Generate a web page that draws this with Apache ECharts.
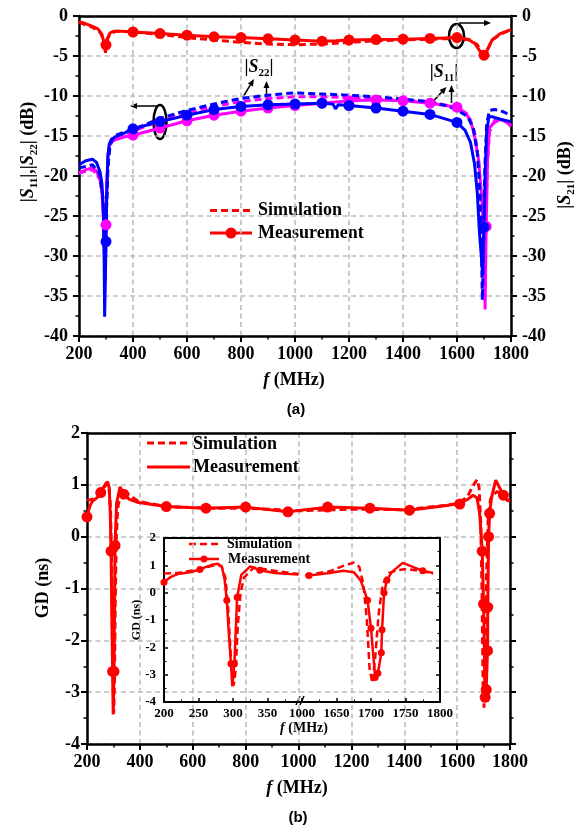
<!DOCTYPE html>
<html><head><meta charset="utf-8">
<script src="https://cdn.jsdelivr.net/npm/echarts@6/dist/echarts.min.js"></script>
<style>html,body{margin:0;padding:0;background:#fff}#c{width:586px;height:828px}</style>
</head><body><div id="c"></div>
<script>
// ---------------- DATA: (a) S-parameters, frequency in MHz, value in dB ----------------
const s21MeasF = [200, 220, 250, 270, 285, 293, 298, 300, 305, 315, 330, 360, 400, 500, 600, 700, 800, 900, 1000, 1100, 1150, 1200, 1300, 1400, 1500, 1600, 1640, 1665, 1685, 1700, 1712, 1730, 1760, 1800];
const s21MeasV = [-0.7, -0.9, -1.3, -1.6, -2.3, -3.4, -4.6, -3.6, -2.8, -2.1, -1.9, -1.9, -2.0, -2.2, -2.4, -2.6, -2.7, -2.85, -3.0, -3.15, -3.1, -3.0, -2.95, -2.9, -2.8, -2.7, -2.9, -3.4, -4.4, -4.9, -4.3, -3.0, -2.2, -1.7];
const s21MarkF = [300, 400, 500, 600, 700, 800, 900, 1000, 1100, 1200, 1300, 1400, 1500, 1600, 1700];

const s21SimF = [200, 250, 280, 292, 298, 304, 315, 340, 400, 500, 600, 700, 800, 900, 1000, 1100, 1200, 1300, 1400, 1500, 1600, 1650, 1675, 1690, 1700, 1712, 1730, 1760, 1800];
const s21SimV = [-0.8, -1.4, -2.1, -3.3, -4.5, -3.0, -2.2, -1.9, -2.0, -2.3, -2.7, -3.0, -3.3, -3.5, -3.6, -3.5, -3.3, -3.1, -3.0, -2.9, -2.8, -3.0, -3.6, -4.4, -4.8, -4.2, -3.0, -2.3, -1.7];

const s22MeasF = [200, 225, 250, 265, 278, 285, 290, 293, 295, 297, 300, 303, 307, 312, 320, 340, 370, 400, 500, 600, 700, 800, 900, 1000, 1100, 1140, 1150, 1160, 1200, 1300, 1400, 1500, 1600, 1630, 1650, 1665, 1675, 1683, 1690, 1695, 1700, 1705, 1710, 1718, 1730, 1760, 1800];
const s22MeasV = [-18.6, -18.1, -17.9, -18.3, -19.5, -21, -24, -30, -37.6, -34, -28.2, -22, -17.5, -16, -15.4, -15.0, -14.6, -14.1, -13.2, -12.4, -11.7, -11.3, -11.1, -11.0, -10.9, -11.0, -11.6, -11.1, -11.2, -11.5, -11.9, -12.3, -13.3, -14.3, -15.8, -18.5, -22, -27, -30, -32.4, -26.4, -19, -14.5, -12.6, -12.6, -12.9, -13.2];
const s22MarkF = [300, 400, 500, 600, 700, 800, 900, 1000, 1100, 1200, 1300, 1400, 1500, 1600, 1700];

const s22SimF = [200, 250, 275, 288, 294, 298, 302, 307, 315, 330, 360, 400, 500, 600, 700, 800, 900, 1000, 1100, 1200, 1300, 1400, 1500, 1560, 1600, 1640, 1660, 1675, 1685, 1690, 1694, 1698, 1703, 1710, 1720, 1740, 1760, 1780, 1800];
const s22SimV = [-19.0, -18.6, -19.6, -22.5, -26, -30, -24, -19, -16.2, -15.0, -14.6, -14.2, -12.8, -11.8, -11.0, -10.3, -9.9, -9.6, -9.75, -9.9, -10.1, -10.4, -10.7, -11.2, -11.7, -12.6, -14.0, -17, -22, -28, -35.5, -29, -19, -13.5, -11.8, -11.7, -11.8, -12.1, -12.5];

const s11MeasF = [200, 225, 250, 265, 278, 285, 290, 294, 297, 300, 303, 307, 312, 320, 340, 370, 400, 500, 600, 700, 800, 900, 1000, 1100, 1200, 1300, 1400, 1500, 1600, 1630, 1650, 1665, 1680, 1690, 1700, 1704, 1708, 1713, 1720, 1735, 1760, 1785, 1800];
const s11MeasV = [-19.7, -19.2, -19.0, -19.4, -20.5, -22, -25, -30, -33, -26.1, -21, -17.5, -16.3, -15.7, -15.4, -15.1, -14.9, -14.0, -13.1, -12.4, -11.9, -11.5, -11.2, -10.9, -10.6, -10.5, -10.6, -10.9, -11.4, -12.1, -13.0, -15, -18, -22, -27, -36.7, -26.3, -18, -14.0, -13.4, -12.9, -13.3, -13.8];
const s11MarkF = [300, 400, 500, 600, 700, 800, 900, 1000, 1100, 1200, 1300, 1400, 1500, 1600, 1708];

const s11SimF = [200, 250, 280, 290, 296, 300, 305, 312, 325, 360, 400, 500, 600, 700, 800, 900, 1000, 1100, 1200, 1300, 1400, 1500, 1600, 1640, 1665, 1680, 1692, 1700, 1706, 1712, 1720, 1740, 1770, 1800];
const s11SimV = [-19.6, -19.2, -20.5, -24, -31, -26, -20, -16.5, -15.3, -14.8, -14.4, -13.1, -12.1, -11.3, -10.7, -10.3, -10.1, -10.1, -10.2, -10.3, -10.5, -10.8, -11.4, -12.3, -14.5, -18, -25, -33, -28, -19, -14.5, -13.0, -13.0, -13.6];

// ---------------- DATA: (b) group delay, frequency in MHz, value in ns ----------------
const gdMeasF = [200, 210, 220, 240, 252, 262, 270, 278, 284, 288, 291, 294, 297, 299, 302, 306, 312, 325, 339, 360, 395, 500, 650, 800, 960, 1110, 1270, 1420, 1560, 1605, 1610, 1640, 1660, 1675, 1685, 1690, 1695, 1700, 1706, 1710, 1715, 1716, 1719, 1723, 1730, 1746, 1775, 1790, 1800];
const gdMeasV = [0.38, 0.58, 0.68, 0.76, 0.85, 0.95, 1.02, 1.06, 0.95, 0.45, -0.28, -1.5, -2.6, -3.43, -2.6, -0.17, 0.65, 0.96, 0.82, 0.72, 0.66, 0.58, 0.55, 0.57, 0.48, 0.57, 0.55, 0.51, 0.6, 0.64, 0.63, 0.72, 0.8, 0.75, 0.45, 0.1, -0.28, -1.3, -3.1, -2.95, -2.2, -1.36, 0.0, 0.45, 0.75, 1.09, 0.8, 0.72, 0.68];
const gdMarkF = [200, 252, 291, 297, 302, 306, 339, 500, 650, 800, 960, 1110, 1270, 1420, 1610, 1695, 1700, 1706, 1710, 1715, 1716, 1719, 1723, 1775];

const gdSimF = [200, 220, 250, 275, 283, 289, 293, 297, 301, 304, 307, 311, 316, 330, 360, 395, 500, 650, 800, 1000, 1200, 1400, 1550, 1605, 1640, 1660, 1675, 1683, 1689, 1694, 1698, 1702, 1706, 1711, 1717, 1726, 1738, 1752, 1770, 1790, 1800];
const gdSimV = [0.7, 0.72, 0.85, 1.02, 0.98, 0.55, -0.6, -2.4, -3.4, -2.8, -1.2, 0.0, 0.55, 0.92, 0.8, 0.68, 0.58, 0.55, 0.55, 0.5, 0.53, 0.52, 0.6, 0.64, 0.78, 0.98, 1.1, 0.95, 0.3, -1.0, -2.8, -3.3, -2.4, -0.8, 0.3, 0.72, 0.82, 0.87, 0.8, 0.7, 0.66];

// inset (broken axis) tick labels and visible frequency windows
const insetTickLabels = ['200', '250', '300', '350', '1000', '1650', '1700', '1750', '1800'];
const insetLeftEnd = 395, insetRightStart = 1605, insetRightEnd = 1790;

// ---------------- helpers ----------------
const RED = '#ff0000', BLUE = '#0000ff', MAG = '#ff00ff';
const SERIF = '"Liberation Serif","Times New Roman",serif';
function items(F, V, marks, size) {
  const set = new Set(marks || []);
  return F.map((f, i) => ({ value: [f, V[i]], symbolSize: set.has(f) ? size : 0 }));
}
function insetU(f) { return f <= insetLeftEnd ? (f - 200) / 50 : 4 + (f - 1600) / 50; }
function insetItems(F, V, marks, size) {
  const set = new Set(marks || []);
  const out = []; let gap = false;
  F.forEach((f, i) => {
    if (f <= insetLeftEnd) out.push({ value: [insetU(f), V[i]], symbolSize: set.has(f) ? size : 0 });
    else if (f >= insetRightStart && f <= insetRightEnd) {
      if (!gap) { out.push({ value: [4, '-'], symbolSize: 0 }); gap = true; }
      out.push({ value: [insetU(f), V[i]], symbolSize: set.has(f) ? size : 0 });
    }
  });
  return out;
}
function ser(name, xi, yi, data, color, dashed, width) {
  return {
    name, type: 'line', xAxisIndex: xi, yAxisIndex: yi, data,
    symbol: 'circle', showSymbol: true, showAllSymbol: true,
    itemStyle: { color }, lineStyle: { color, width, type: dashed ? [7, 4] : 'solid' },
    emphasis: { disabled: true }, silent: true, animation: false
  };
}
const plain = v => String(v);
const GRID = { show: true, lineStyle: { color: '#bdbdbd', width: 1.6, type: [5, 3.5] } };
function lab(size, margin, fmt) {
  return { show: true, color: '#000', fontFamily: SERIF, fontWeight: 'bold', fontSize: size, margin, formatter: fmt || plain };
}
function valAxis(o) {
  return Object.assign({
    type: 'value', axisLine: { show: true, onZero: false, lineStyle: { color: '#000', width: 2.5 } },
    axisTick: { show: true, length: 6, lineStyle: { color: '#000', width: 2 } },
    minorTick: { show: true, splitNumber: 2, length: 3.5, lineStyle: { color: '#000', width: 1.5 } },
    axisLabel: lab(18, 8),
    splitLine: { show: false }
  }, o);
}
function frame(o) {
  return Object.assign({ type: 'value', axisLine: { show: true, onZero: false, lineStyle: { color: '#000', width: 2.5 } },
    axisTick: { show: false }, axisLabel: { show: false }, splitLine: { show: false } }, o);
}
function arrow(x1, y1, x2, y2, w) {
  const dx = x2 - x1, dy = y2 - y1, L = Math.hypot(dx, dy), ux = dx / L, uy = dy / L;
  const bx = x2 - ux * 7, by = y2 - uy * 7, px = -uy * 3, py = ux * 3;
  return [
    { type: 'line', shape: { x1, y1, x2: bx, y2: by }, style: { stroke: '#000', lineWidth: w || 1.5 } },
    { type: 'polygon', shape: { points: [[x2, y2], [bx + px, by + py], [bx - px, by - py]] }, style: { fill: '#000' } }
  ];
}
function txt(x, y, text, size, extra) {
  return { type: 'text', x, y, style: Object.assign({ text, fontFamily: SERIF, fontWeight: 'bold', fontSize: size, fill: '#000', align: 'left', verticalAlign: 'middle' }, extra || {}) };
}
function richStyles(size, sub) {
  return {
    t: { fontFamily: SERIF, fontWeight: 'bold', fontSize: size, lineHeight: size + 6, fill: '#000', verticalAlign: 'middle' },
    i: { fontFamily: SERIF, fontWeight: 'bold', fontStyle: 'italic', fontSize: size, lineHeight: size + 6, fill: '#000', verticalAlign: 'middle' },
    s: { fontFamily: SERIF, fontWeight: 'bold', fontSize: sub, lineHeight: sub, fill: '#000', verticalAlign: 'bottom' }
  };
}
function rich(x, y, text, size, sub, rot) {
  return { type: 'text', x, y, rotation: rot || 0, style: { text, rich: richStyles(size, sub), align: 'center', verticalAlign: 'middle' } };
}
function legendLine(x1, x2, y, dashed, w, withDot, r) {
  const g = [{ type: 'line', shape: { x1, y1: y, x2, y2: y }, style: { stroke: RED, lineWidth: w, lineDash: dashed ? [7, 4] : null } }];
  if (withDot) g.push({ type: 'circle', shape: { cx: (x1 + x2) / 2, cy: y, r }, style: { fill: RED } });
  return g;
}
const insetTick = { show: true, inside: true, length: 4, lineStyle: { color: '#000', width: 1.5 } };
const insetMinor = { show: true, splitNumber: 2, length: 2.5, lineStyle: { color: '#000', width: 1 } };
const insetLine = { show: true, onZero: false, lineStyle: { color: '#000', width: 2 } };

const chart = echarts.init(document.getElementById('c'), null, { renderer: 'canvas' });
const option = {
  animation: false,
  backgroundColor: '#fff',
  grid: [
    { left: 79, top: 16, width: 432, height: 320, outerBoundsMode: 'none' },
    { left: 87, top: 433, width: 423, height: 311, outerBoundsMode: 'none' },
    { left: 164, top: 538, width: 276, height: 164, outerBoundsMode: 'none' }
  ],
  xAxis: [
    valAxis({ gridIndex: 0, min: 200, max: 1800, interval: 200, splitLine: GRID, axisLabel: lab(18, 9) }),
    frame({ gridIndex: 0, position: 'top', min: 200, max: 1800 }),
    valAxis({ gridIndex: 1, min: 200, max: 1800, interval: 200, splitLine: GRID, axisLabel: lab(18, 9) }),
    frame({ gridIndex: 1, position: 'top', min: 200, max: 1800 }),
    valAxis({ gridIndex: 2, min: 0, max: 8, interval: 1, axisTick: insetTick, minorTick: insetMinor, axisLine: insetLine,
      axisLabel: lab(13, 5, v => insetTickLabels[v]) }),
    frame({ gridIndex: 2, position: 'top', min: 0, max: 8, axisLine: insetLine })
  ],
  yAxis: [
    valAxis({ gridIndex: 0, min: -40, max: 0, interval: 5, splitLine: GRID, axisLabel: lab(18, 11) }),
    valAxis({ gridIndex: 0, position: 'right', min: -40, max: 0, interval: 5, axisLabel: lab(18, 11) }),
    valAxis({ gridIndex: 1, min: -4, max: 2, interval: 1, splitLine: GRID, axisLabel: lab(18, 7) }),
    valAxis({ gridIndex: 1, position: 'right', min: -4, max: 2, interval: 1, axisLabel: { show: false } }),
    valAxis({ gridIndex: 2, min: -4, max: 2, interval: 1, axisTick: insetTick, minorTick: insetMinor, axisLine: insetLine,
      axisLabel: lab(13, 8) }),
    valAxis({ gridIndex: 2, position: 'right', min: -4, max: 2, interval: 1, axisLabel: { show: false },
      axisTick: insetTick, minorTick: insetMinor, axisLine: insetLine })
  ],
  series: [
    ser('S11 sim', 0, 0, items(s11SimF, s11SimV, [], 0), MAG, true, 3),
    ser('S11 meas', 0, 0, items(s11MeasF, s11MeasV, s11MarkF, 11), MAG, false, 3),
    ser('S22 sim', 0, 0, items(s22SimF, s22SimV, [], 0), BLUE, true, 3),
    ser('S22 meas', 0, 0, items(s22MeasF, s22MeasV, s22MarkF, 11), BLUE, false, 3),
    ser('Simulation', 0, 0, items(s21SimF, s21SimV, [], 0), RED, true, 3),
    ser('Measurement', 0, 0, items(s21MeasF, s21MeasV, s21MarkF, 11), RED, false, 3),
    ser('GD sim', 2, 2, items(gdSimF, gdSimV, [], 0), RED, true, 3),
    ser('GD meas', 2, 2, items(gdMeasF, gdMeasV, gdMarkF, 11), RED, false, 3),
    ser('GD sim inset', 4, 4, insetItems(gdSimF, gdSimV, [], 0), RED, true, 2.5),
    ser('GD meas inset', 4, 4, insetItems(gdMeasF, gdMeasV, gdMarkF, 7), RED, false, 2.5)
  ],
  graphic: [].concat(
    // (a) annotations
    [{ type: 'ellipse', shape: { cx: 160, cy: 122, rx: 6.5, ry: 17 }, style: { stroke: '#000', lineWidth: 2.5, fill: null } }],
    arrow(157, 106, 130, 106),
    [{ type: 'ellipse', shape: { cx: 456.5, cy: 36, rx: 7.5, ry: 12 }, style: { stroke: '#000', lineWidth: 2.5, fill: null } }],
    arrow(459, 23, 491, 23),
    [rich(259, 67, '{t||}{i|S}{s|22}{t||}', 18, 11)],
    arrow(243, 97, 254, 79), arrow(266.5, 105, 266.5, 81),
    [rich(444, 72, '{t||}{i|S}{s|11}{t||}', 18, 11)],
    arrow(433, 101.5, 446.5, 87), arrow(451.5, 103, 451.5, 85),
    legendLine(210, 252, 210.5, true, 3), [txt(258, 210.5, 'Simulation', 18)],
    legendLine(210, 252, 233, false, 3, true, 5.5), [txt(258, 233, 'Measurement', 18)],
    [rich(28, 152, '{t||}{i|S}{s|11}{t||,|}{i|S}{s|22}{t||}{t| (dB)}', 18, 11, Math.PI / 2)],
    [rich(565, 175, '{t||}{i|S}{s|21}{t||}{t| (dB)}', 18, 11, Math.PI / 2)],
    [rich(294, 380, '{i|f}{t| (MHz)}', 18, 11)],
    [txt(296, 410, '(a)', 15, { fontFamily: '"Liberation Sans",Arial,sans-serif', align: 'center' })],
    // (b)
    legendLine(147, 190, 443, true, 3), [txt(193, 444, 'Simulation', 18)],
    legendLine(147, 190, 467, false, 3), [txt(193, 467, 'Measurement', 18)],
    [rich(43, 588, '{t|GD (ns)}', 18, 11, Math.PI / 2)],
    [rich(297, 788, '{i|f}{t| (MHz)}', 18, 11)],
    [txt(298, 818, '(b)', 15, { fontFamily: '"Liberation Sans",Arial,sans-serif', align: 'center' })],
    // inset
    legendLine(189, 219, 544, true, 2.5), [txt(227, 544, 'Simulation', 14)],
    legendLine(189, 219, 559, false, 2.5, true, 3.5), [txt(228, 559, 'Measurement', 14)],
    [rich(137, 620, '{t|GD (ns)}', 12, 9, Math.PI / 2)],
    [rich(304, 728, '{i|f}{t| (MHz)}', 14, 9)],
    // axis-break mark on inset x axis
    [{ type: 'line', shape: { x1: 296, y1: 705, x2: 300, y2: 696 }, style: { stroke: '#000', lineWidth: 1.5 } },
     { type: 'line', shape: { x1: 300, y1: 705, x2: 304, y2: 696 }, style: { stroke: '#000', lineWidth: 1.5 } }]
  )
};
chart.setOption(option);
</script></body></html>
